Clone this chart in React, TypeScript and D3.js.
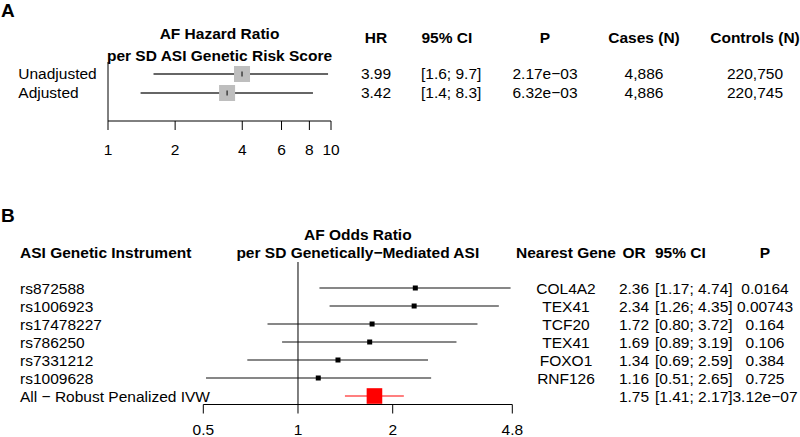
import * as d3 from 'd3';

// Panel A: HR per SD ASI genetic risk score
const aLabels = ['Unadjusted', 'Adjusted'];
const aHR = [3.99, 3.42];
const aLower = [1.6, 1.4];
const aUpper = [9.7, 8.3];
const aP = ['2.17e\u221203', '6.32e\u221203'];
const aCases = ['4,886', '4,886'];
const aControls = ['220,750', '220,745'];
const aTicks = [1, 2, 4, 6, 8, 10];

// Panel B: OR per SD genetically-mediated ASI
const bLabels = ['rs872588', 'rs1006923', 'rs17478227', 'rs786250', 'rs7331212', 'rs1009628', 'All \u2212 Robust Penalized IVW'];
const bGenes = ['COL4A2', 'TEX41', 'TCF20', 'TEX41', 'FOXO1', 'RNF126', ''];
const bOR = [2.36, 2.34, 1.72, 1.69, 1.34, 1.16, 1.75];
const bLower = [1.17, 1.26, 0.80, 0.89, 0.69, 0.51, 1.41];
const bUpper = [4.74, 4.35, 3.72, 3.19, 2.59, 2.65, 2.17];
const bP = ['0.0164', '0.00743', '0.164', '0.106', '0.384', '0.725', '3.12e\u221207'];
const bTicks = [0.5, 1, 2, 4.8];

const FONT = '"Liberation Sans", Arial, Helvetica, sans-serif';
const FS = 15.5;

export default function App() {
  const xA = d3.scaleLog().domain([1, 10]).range([108, 331]);
  const yA = d3.scalePoint<string>().domain(aLabels).range([74, 93]);
  const xB = d3.scaleLog().domain([0.5, 4.8]).range([203.3, 512.3]);
  const yB = d3.scalePoint<string>().domain(bLabels).range([288, 396]);
  const axisA = 121;
  const axisB = 404.5;
  const nB = bLabels.length;

  return (
    <svg width={800} height={437} style={{ position: 'absolute', left: 0, top: 0, background: '#fff' }}
      fontFamily={FONT} fontSize={FS} fill="#000">
      {/* ---- Panel A ---- */}
      <text x={1} y={17} fontSize={19} fontWeight="bold">A</text>
      <text x={(108 + 331) / 2} y={38.5} textAnchor="middle" fontWeight="bold">AF Hazard Ratio</text>
      <text x={(108 + 331) / 2} y={61} textAnchor="middle" fontWeight="bold">per SD ASI Genetic Risk Score</text>
      <text x={376} y={42.5} textAnchor="middle" fontWeight="bold">HR</text>
      <text x={421.5} y={42.5} fontWeight="bold">95% CI</text>
      <text x={545} y={42.5} textAnchor="middle" fontWeight="bold">P</text>
      <text x={644} y={42.5} textAnchor="middle" fontWeight="bold">Cases (N)</text>
      <text x={755} y={42.5} textAnchor="middle" fontWeight="bold">Controls (N)</text>

      <line x1={xA(1)} x2={xA(1)} y1={62} y2={axisA} stroke="#000" strokeWidth={1} />
      {aLabels.map((lab, i) => {
        const y = yA(lab)!;
        return (
          <g key={lab}>
            <text x={18.3} y={y + 5}>{lab}</text>
            <line x1={xA(aLower[i])} x2={xA(aUpper[i])} y1={y} y2={y} stroke="#333" strokeWidth={1.3} />
            <rect x={xA(aHR[i]) - 8} y={y - 8} width={16} height={16} fill="#bebebe" />
            <line x1={xA(aHR[i])} x2={xA(aHR[i])} y1={y - 2.5} y2={y + 2.5} stroke="#000" strokeWidth={1} />
            <text x={376} y={y + 5} textAnchor="middle">{aHR[i].toFixed(2)}</text>
            <text x={421} y={y + 5}>{`[${aLower[i].toFixed(1)}; ${aUpper[i].toFixed(1)}]`}</text>
            <text x={545} y={y + 5} textAnchor="middle">{aP[i]}</text>
            <text x={644} y={y + 5} textAnchor="middle">{aCases[i]}</text>
            <text x={755} y={y + 5} textAnchor="middle">{aControls[i]}</text>
          </g>
        );
      })}
      <line x1={xA(1)} x2={xA(10)} y1={axisA} y2={axisA} stroke="#000" strokeWidth={1} />
      {aTicks.map(t => (
        <g key={t}>
          <line x1={xA(t)} x2={xA(t)} y1={axisA} y2={axisA + 9} stroke="#000" strokeWidth={1} />
          <text x={xA(t)} y={155} textAnchor="middle">{t}</text>
        </g>
      ))}

      {/* ---- Panel B ---- */}
      <text x={1} y={222} fontSize={19} fontWeight="bold">B</text>
      <text x={20} y={258} fontWeight="bold">ASI Genetic Instrument</text>
      <text x={357.8} y={240} textAnchor="middle" fontWeight="bold">AF Odds Ratio</text>
      <text x={357.8} y={258} textAnchor="middle" fontWeight="bold">per SD Genetically{'\u2212'}Mediated ASI</text>
      <text x={566} y={258} textAnchor="middle" fontWeight="bold">Nearest Gene</text>
      <text x={634} y={258} textAnchor="middle" fontWeight="bold">OR</text>
      <text x={655} y={258} fontWeight="bold">95% CI</text>
      <text x={765} y={258} textAnchor="middle" fontWeight="bold">P</text>

      <line x1={xB(1)} x2={xB(1)} y1={262} y2={axisB} stroke="#000" strokeWidth={1} />
      {bLabels.map((lab, i) => {
        const y = yB(lab)!;
        const pooled = i === nB - 1;
        const col = pooled ? '#ff0000' : '#000';
        const s = pooled ? 15.6 : 5;
        return (
          <g key={lab}>
            <text x={20} y={y + 5.5}>{lab}</text>
            <line x1={xB(bLower[i])} x2={xB(bUpper[i])} y1={y} y2={y}
              stroke={pooled ? '#ff0000' : '#111'} strokeWidth={1.2} />
            <rect x={xB(bOR[i]) - s / 2} y={y - s / 2} width={s} height={s} fill={col} />
            <text x={566} y={y + 5.5} textAnchor="middle">{bGenes[i]}</text>
            <text x={634} y={y + 5.5} textAnchor="middle">{bOR[i].toFixed(2)}</text>
            <text x={655} y={y + 5.5}>{`[${bLower[i].toFixed(2)}; ${bUpper[i].toFixed(2)}]`}</text>
            <text x={765} y={y + 5.5} textAnchor="middle">{bP[i]}</text>
          </g>
        );
      })}
      <line x1={xB(0.5)} x2={xB(4.8)} y1={axisB} y2={axisB} stroke="#000" strokeWidth={1} />
      {bTicks.map(t => (
        <g key={t}>
          <line x1={xB(t)} x2={xB(t)} y1={axisB} y2={axisB + 9} stroke="#000" strokeWidth={1} />
          <text x={xB(t)} y={434.5} textAnchor="middle">{t}</text>
        </g>
      ))}
    </svg>
  );
}
